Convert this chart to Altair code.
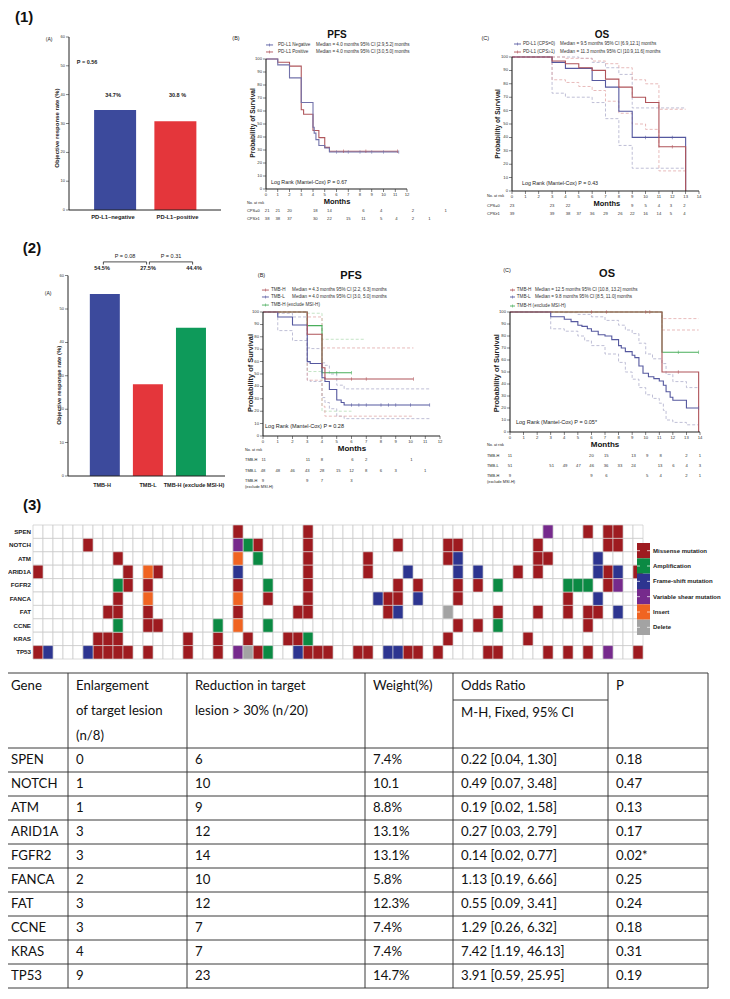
import altair as alt
import pandas as pd

# ============================ DATA ============================
# (1)(A) objective response rate by PD-L1
orr1_groups = ["PD-L1\u2013negative", "PD-L1\u2013positive"]
orr1_values = [34.7, 30.8]
orr1_labels = ["34.7%", "30.8 %"]
orr1_p = "P = 0.56"

# (2)(A) objective response rate by TMB
orr2_groups = ["TMB-H", "TMB-L", "TMB-H (exclude MSI-H)"]
orr2_values = [54.5, 27.5, 44.4]
orr2_labels = ["54.5%", "27.5%", "44.4%"]
orr2_p = ["P = 0.08", "P = 0.31"]

# (1)(B) PFS by PD-L1
pfs1_names = ["PD-L1 Negative", "PD-L1 Positive"]
pfs1_medians = ["Median = 4.0 months 95% CI [2.9,5.2] months",
                "Median = 4.0 months 95% CI [3.0,5.0] months"]
pfs1_t = [[0, 1, 2, 3, 4, 4.1, 4.25, 4.5, 5, 5.4, 11.3],
          [0, 1, 2, 3, 3.2, 4, 4.5, 5, 5.4, 11.2]]
pfs1_s = [[100, 95.5, 85.5, 66.5, 47.5, 43, 38, 33.5, 31.5, 28.5, 28.5],
          [100, 97.5, 94.5, 61, 57.5, 45, 39.5, 32, 29, 29]]
pfs1_cens_t = [[6, 7, 8, 9, 10, 11.3], [6.6, 8.5, 11.2]]
pfs1_cens_s = [[28.5] * 6, [29] * 3]
pfs1_logrank = "Log Rank (Mantel-Cox)  P = 0.67"
pfs1_risk_groups = ["CPS=0", "CPS\u22651"]
pfs1_risk_t = [[0.1, 1, 2, 4.2, 5.4, 8.3, 9.8, 12.5, 15.3],
               [0.1, 1, 2, 4.2, 5.4, 7, 8.3, 9.8, 11.1, 12.5, 13.9]]
pfs1_risk_n = [[21, 21, 20, 18, 14, 6, 4, 2, 1],
               [38, 38, 37, 30, 22, 15, 11, 5, 4, 2, 1]]

# (1)(C) OS by PD-L1
os1_names = ["PD-L1 (CPS=0)", "PD-L1 (CPS\u22651)"]
os1_medians = ["Median = 9.5 months 95% CI [6.9,12.1] months",
               "Median = 11.3 months 95% CI [10.9,11.6] months"]
os1_t = [[0, 3, 4, 6, 7, 8, 9, 13],
         [0, 3, 4, 5, 6, 7, 8, 9, 10, 11, 13]]
os1_s = [[100, 96, 91.5, 82.5, 77.5, 59.5, 40, 0],
         [100, 97, 95, 92, 90, 83.5, 77.5, 70, 66, 33, 0]]
os1_cens_t = [[10, 12], [12]]
os1_cens_s = [[40, 40], [33]]
os1_ci_t = [[0, 5, 6, 7, 8, 9, 13],
            [0, 3, 4, 6, 7, 8, 9, 13],
            [0, 4, 6, 7, 8, 9, 10, 11, 13],
            [0, 3, 4, 5, 6, 7, 8, 9, 10, 11, 13]]
os1_ci_s = [[100, 99, 96, 92, 87, 62, 62],
            [100, 73, 70, 66, 54, 34, 17, 17],
            [100, 99, 97, 95, 92, 83, 80, 61, 61],
            [100, 83, 81, 78, 75, 67, 58, 50, 46, 15, 15]]
os1_logrank = "Log Rank (Mantel-Cox)  P = 0.43"
os1_risk_t = [[0, 3, 4.2, 9, 10, 11, 11.9, 12.9],
              [0, 3, 4.2, 5, 6, 7, 8.1, 9, 10, 11, 11.9, 12.9]]
os1_risk_n = [[23, 23, 22, 9, 5, 4, 3, 2],
              [39, 39, 38, 37, 36, 29, 26, 22, 16, 14, 5, 4]]

# (2)(B) PFS by TMB
tmb_names = ["TMB-H", "TMB-L", "TMB-H (exclude MSI-H)"]
pfs2_medians = ["Median = 4.3 months 95% CI [2.2, 6.3] months",
                "Median = 4.0 months 95% CI [3.0, 5.0] months", ""]
pfs2_t = [[0, 3, 4, 4.2, 10.2],
          [0, 1, 2, 3, 3.2, 4, 4.2, 4.5, 5, 5.3, 5.5, 11.3],
          [0, 3, 4, 6]]
pfs2_s = [[100, 82, 55, 46, 46],
          [100, 96, 89.5, 60, 58.5, 47, 44, 37.5, 29, 27, 25, 25],
          [100, 89, 51, 51]]
pfs2_cens_t = [[6, 7, 10.2], [6, 6.5, 7, 8, 8.5, 9, 10, 11.3], [5, 6]]
pfs2_cens_s = [[46] * 3, [25] * 8, [51] * 2]
pfs2_ci_t = [[0, 3, 4, 10.2], [0, 3, 4, 4.2, 10.2],
             [0, 1, 2, 3, 3.2, 4, 4.2, 4.5, 5, 5.5, 11.3],
             [0, 1, 2, 3, 3.2, 4, 4.2, 4.5, 5, 5.5, 11.3],
             [0, 3, 4, 6.9], [0, 3, 4, 6]]
pfs2_ci_s = [[100, 96, 71, 71], [100, 45, 24, 16, 16],
             [100, 99, 96, 71, 70.5, 59, 57, 50, 41, 38, 38],
             [100, 85, 77, 45, 44, 31, 27, 22, 16, 14, 14],
             [100, 99, 78, 78], [100, 52, 20, 20]]
pfs2_logrank = "Log Rank (Mantel-Cox)  P = 0.28"
pfs2_risk_t = [[0.05, 3.05, 4, 6.06, 7, 10.07],
               [0, 1, 2, 3, 4, 5.1, 6, 7, 8, 9, 11],
               [0, 3, 4, 6]]
pfs2_risk_n = [[11, 11, 8, 6, 2, 1],
               [48, 48, 46, 43, 28, 15, 12, 8, 6, 3, 1],
               [9, 9, 7, 3]]

# (2)(C) OS by TMB
os2_medians = ["Median = 12.5 months 95% CI [10.8, 13.2] months",
               "Median = 9.8 months 95% CI [8.5, 11.0] months", ""]
os2_t = [[0, 11.2, 13.9],
         [0, 3, 4, 4.5, 5, 5.3, 5.7, 6, 6.5, 7, 7.5, 8, 8.2, 8.5, 9, 9.2, 9.5, 9.8,
          10.2, 10.6, 11, 11.3, 11.5, 11.8, 12, 13, 13.9],
         [0, 11.2, 13.9]]
os2_s = [[100, 50, 0],
         [100, 96, 94, 92, 89, 88, 86, 84, 81, 80, 77, 72, 70, 67, 64, 62, 55, 49,
          46, 44.5, 42.5, 39, 33.5, 29, 26.5, 20, 20],
         [100, 66.5, 66.5]]
os2_cens_t = [[6, 7.1, 10, 10.3, 12.4], [13.9], [12.4, 13.9]]
os2_cens_s = [[100, 100, 100, 100, 50], [20], [66.5, 66.5]]
os2_ci_t = [[0, 11.2, 13.9], [0, 11.2, 13.9],
            [0, 3, 4, 5, 6, 7, 8, 8.5, 9, 9.5, 10, 10.5, 11.2, 11.5, 12, 13, 13.9],
            [0, 3, 4, 5, 5.5, 6, 7, 8, 8.5, 9, 9.5, 10, 10.5, 11, 11.3, 11.5, 12, 13, 13.9]]
os2_ci_s = [[100, 94.5, 94.5], [100, 85, 85],
            [100, 100, 99.5, 98, 96, 93, 89, 85, 82, 74, 65, 61, 57, 48, 42, 37, 37],
            [100, 86, 84, 80, 76, 72, 65, 58, 50, 44, 37, 31, 28, 24, 18, 10, 8, 6, 6]]
os2_logrank = "Log Rank (Mantel-Cox)  P = 0.05*"
os2_risk_t = [[0, 6, 7.1, 9.1, 10.1, 11.1, 13, 14],
              [0, 3.07, 4.05, 5.04, 6.02, 7.08, 8.1, 9.1, 11.06, 12.04, 13.02, 14],
              [0, 6, 7.1, 10.1, 11.1, 13, 14]]
os2_risk_n = [[11, 20, 15, 13, 9, 8, 2, 1],
              [51, 51, 49, 47, 46, 36, 33, 24, 13, 6, 4, 3],
              [9, 9, 6, 5, 4, 2, 1]]

# (3) oncoprint: gene -> patient columns per alteration type
onco_genes = ["SPEN", "NOTCH", "ATM", "ARID1A", "FGFR2", "FANCA", "FAT", "CCNE", "KRAS", "TP53"]
onco_types = ["Missense mutation", "Amplification", "Frame-shift mutation",
              "Variable shear mutation", "Insert", "Delete"]
onco_missense = {
    "SPEN": [20, 27, 55, 57, 58],
    "NOTCH": [5, 22, 27, 36, 41, 42, 50, 57, 58],
    "ATM": [8, 27, 33, 41, 50, 51],
    "ARID1A": [0, 9, 12, 27, 33, 48, 50, 57, 60],
    "FGFR2": [9, 11, 20, 27, 36, 38, 42, 44, 57],
    "FANCA": [8, 23, 27, 35, 36, 42, 53],
    "FAT": [7, 8, 11, 20, 26, 27, 35, 46, 50, 53, 55, 56],
    "CCNE": [11, 12, 42, 44, 55],
    "KRAS": [6, 7, 8, 15, 18, 21, 25, 26, 41, 49],
    "TP53": [0, 6, 7, 8, 9, 11, 15, 18, 22, 27, 28, 29, 32, 33, 37, 38, 40, 45, 46, 51, 53, 55, 60],
}
onco_amplification = {"NOTCH": [21], "ATM": [22], "FGFR2": [8, 23, 46, 53, 54, 55],
                      "CCNE": [8, 18, 23, 46], "KRAS": [27], "TP53": [23]}
onco_frameshift = {"ATM": [42, 56], "ARID1A": [20, 37, 42, 44, 56, 58], "FANCA": [34, 38, 56],
                   "FAT": [36, 58], "TP53": [1, 5, 26, 35, 36]}
onco_splice = {"SPEN": [51], "NOTCH": [20], "FGFR2": [58], "TP53": [20, 57]}
onco_insert = {"ATM": [20], "ARID1A": [11], "FANCA": [11, 20], "CCNE": [20]}
onco_delete = {"FAT": [41], "TP53": [21]}
onco_n_patients = 61

# (3) table
tab_genes = ["SPEN", "NOTCH", "ATM", "ARID1A", "FGFR2", "FANCA", "FAT", "CCNE", "KRAS", "TP53"]
tab_enlarge = [0, 1, 1, 3, 3, 2, 3, 3, 4, 9]
tab_reduce = [6, 10, 9, 12, 14, 10, 12, 7, 7, 23]
tab_weight = ["7.4%", "10.1", "8.8%", "13.1%", "13.1%", "5.8%", "12.3%", "7.4%", "7.4%", "14.7%"]
tab_or = ["0.22 [0.04, 1.30]", "0.49 [0.07, 3.48]", "0.19 [0.02, 1.58]", "0.27 [0.03, 2.79]",
          "0.14 [0.02, 0.77]", "1.13 [0.19, 6.66]", "0.55 [0.09, 3.41]", "1.29 [0.26, 6.32]",
          "7.42 [1.19, 46.13]", "3.91 [0.59, 25.95]"]
tab_p = ["0.18", "0.47", "0.13", "0.17", "0.02*", "0.25", "0.24", "0.18", "0.31", "0.19"]

# ============================ LAYOUT ============================
FONT = "Liberation Sans"
OFF = 8
layers = []


def qs(dom, a, b):
    return alt.Scale(domain=dom, range=[a - OFF, b - OFF], nice=False, zero=False)


class Frame:
    def __init__(self, xdom, xr, ydom, yr):
        self.xs = qs(xdom, *xr)
        self.ys = qs(ydom, *yr)

    def pos(self):
        return dict(x=alt.X("x:Q", scale=self.xs, axis=None),
                    y=alt.Y("y:Q", scale=self.ys, axis=None))


def add_text(fr, rows, **kw):
    mk = dict(font=FONT, fontSize=5, color="#222")
    mk.update(kw)
    df = pd.DataFrame(rows, columns=["x", "y", "t"])
    layers.append(alt.Chart(df).mark_text(**mk).encode(text="t:N", **fr.pos()))


def add_rules(fr, rows, color="#222", width=1.0, dash=None):
    df = pd.DataFrame(rows, columns=["x", "x2", "y", "y2"])
    mk = dict(color=color, strokeWidth=width)
    if dash:
        mk["strokeDash"] = dash
    layers.append(alt.Chart(df).mark_rule(**mk).encode(x2="x2:Q", y2="y2:Q", **fr.pos()))


def add_steps(fr, ts, ss, colors, order, width=1.2, dash=None):
    """one step-line layer per series, drawn in the given order"""
    for i in order:
        df = pd.DataFrame({"x": ts[i], "y": ss[i]})
        mk = dict(interpolate="step-after", strokeWidth=width, color=colors[i])
        if dash:
            mk["strokeDash"] = dash
        layers.append(alt.Chart(df).mark_line(**mk).encode(**fr.pos()))


def add_censor(fr, ts, ss, colors, size=3.5):
    for tt, sv, c in zip(ts, ss, colors):
        df = pd.DataFrame({"x": tt, "y": sv})
        layers.append(alt.Chart(df).mark_tick(orient="vertical", size=size, thickness=0.8,
                                              color=c).encode(**fr.pos()))


def add_axes(fr, x0, x1, y0, y1, yticks, xticks=None, lw=1.1, fs=4.2):
    add_rules(fr, [(x0, x0, y0, y1), (x0, x1, y0, y0)], width=lw)
    yt = pd.DataFrame({"x": x0, "y": yticks})
    yt["t"] = yt["y"].astype(str)
    layers.append(alt.Chart(yt).mark_tick(orient="horizontal", size=3, thickness=0.8,
                                          color="#222", xOffset=-1.5).encode(**fr.pos()))
    layers.append(alt.Chart(yt).mark_text(font=FONT, fontSize=fs, align="right", dx=-4,
                                          color="#333").encode(text="t:N", **fr.pos()))
    if xticks is not None:
        xt = pd.DataFrame({"x": xticks, "y": y0})
        xt["t"] = xt["x"].astype(str)
        layers.append(alt.Chart(xt).mark_tick(orient="vertical", size=3, thickness=0.8,
                                              color="#222", yOffset=1.5).encode(**fr.pos()))
        layers.append(alt.Chart(xt).mark_text(font=FONT, fontSize=fs, dy=6,
                                              color="#333").encode(text="t:N", **fr.pos()))


def add_legend(fr, x0, x1, xname, xmed, ys, names, medians, colors, fs=4.6):
    df = pd.DataFrame({"x": x0, "x2": x1, "y": ys, "k": names})
    cs = alt.Color("k:N", scale=alt.Scale(domain=names, range=colors), legend=None)
    layers.append(alt.Chart(df).mark_rule(strokeWidth=0.9).encode(x2="x2:Q", color=cs, **fr.pos()))
    df2 = pd.DataFrame({"x": (x0 + x1) / 2, "y": ys, "k": names})
    layers.append(alt.Chart(df2).mark_tick(orient="vertical", size=3, thickness=0.8).encode(
        color=cs, **fr.pos()))
    add_text(fr, [(xname, y, n) for y, n in zip(ys, names)], align="left", fontSize=fs, color="#333")
    add_text(fr, [(xmed, y, m) for y, m in zip(ys, medians) if m], align="left", fontSize=fs,
             color="#333")


def add_risk(fr, ts, ns, ys, fs=4.2):
    rows = [(t, y, str(n)) for tt, nn, y in zip(ts, ns, ys) for t, n in zip(tt, nn)]
    add_text(fr, rows, fontSize=fs, color="#333")


BLUE, RED, GREEN = "#3C4A9C", "#E4363B", "#0E9A5A"
KM_B, KM_R, KM_G = "#55589F", "#B0545A", "#49AE5B"
CI_B, CI_R, CI_G = "#AFAFCC", "#E2AAAA", "#B6DDB8"

# ---------------- (1)(A) ----------------
f1a = Frame([-0.682, 1.674], (69, 221), [0, 60], (210, 37))
add_text(f1a, [(-1.52, 66.8, "(1)")], fontSize=15, fontWeight="bold", align="left", color="#111")
df = pd.DataFrame({"x": [0, 1], "y": orr1_values, "g": orr1_groups})
layers.append(alt.Chart(df).mark_bar(size=42, orient="vertical").encode(
    y2=alt.datum(0),
    color=alt.Color("g:N", scale=alt.Scale(domain=orr1_groups, range=[BLUE, RED]), legend=None),
    **f1a.pos()))
add_axes(f1a, -0.682, 1.674, 0, 60, list(range(0, 61, 10)), lw=1.0, fs=4)
add_text(f1a, [(-0.99, 59.3, "(A)")], fontSize=5)
add_text(f1a, [(-0.56, 51.3, orr1_p)], fontSize=5.5, fontWeight="bold", align="left")
add_text(f1a, [(i, 39.9, l) for i, l in enumerate(orr1_labels)], fontSize=5.5, fontWeight="bold")
add_text(f1a, [(i, -2.6, g) for i, g in enumerate(orr1_groups)], fontSize=5.8, fontWeight="bold")
add_text(f1a, [(-0.87, 28.4, "Objective response rate (%)")], fontSize=6, fontWeight="bold", angle=270)

# ---------------- (2)(A) ----------------
f2a = Frame([-0.739, 2.674], (68, 225), [0, 60], (476, 275.6))
add_text(f2a, [(-1.72, 68.3, "(2)")], fontSize=15, fontWeight="bold", align="left", color="#111")
df = pd.DataFrame({"x": [0, 1, 2], "y": orr2_values, "g": orr2_groups})
layers.append(alt.Chart(df).mark_bar(size=30, orient="vertical").encode(
    y2=alt.datum(0),
    color=alt.Color("g:N", scale=alt.Scale(domain=orr2_groups, range=[BLUE, RED, GREEN]), legend=None),
    **f2a.pos()))
add_axes(f2a, -0.739, 2.674, 0, 60, list(range(0, 61, 10)), lw=1.0, fs=4)
add_text(f2a, [(-1.17, 54.8, "(A)")], fontSize=5)
add_rules(f2a, [(0.03, 0.97, 64.1, 64.1), (1.03, 1.97, 64.1, 64.1),
                (0.03, 0.03, 64.1, 63.3), (0.97, 0.97, 64.1, 63.3),
                (1.03, 1.03, 64.1, 63.3), (1.97, 1.97, 64.1, 63.3)], width=0.8)
add_text(f2a, [(0.5, 65.8, orr2_p[0]), (1.5, 65.8, orr2_p[1])], fontSize=5.5)
add_text(f2a, [(i, 62.2, l) for i, l in enumerate(orr2_labels)], fontSize=5.5, fontWeight="bold")
add_text(f2a, [(i, -2.6, g) for i, g in enumerate(orr2_groups)], fontSize=5.5, fontWeight="bold")
add_text(f2a, [(-0.93, 27.2, "Objective response rate (%)")], fontSize=6, fontWeight="bold", angle=270)

# ---------------- (1)(B) PFS ----------------
f1b = Frame([0, 12], (266, 407), [0, 100], (189, 59))
add_text(f1b, [(-2.55, 116.2, "(B)")], fontSize=5.5)
add_text(f1b, [(6.04, 118.5, "PFS")], fontSize=10, fontWeight="bold", color="#111")
add_legend(f1b, 0.0, 0.6, 1.02, 4.26, [110.8, 105.4], pfs1_names, pfs1_medians, [KM_B, KM_R])
add_steps(f1b, pfs1_t, pfs1_s, ["#7272AA", "#B0575C"], order=[1, 0], width=1.1)
add_censor(f1b, pfs1_cens_t, pfs1_cens_s, ["#7272AA", "#B0575C"])
add_axes(f1b, 0, 12, 0, 100, list(range(0, 101, 10)), list(range(0, 13)))
add_text(f1b, [(0.43, 5.4, pfs1_logrank)], fontSize=5.3, align="left")
add_text(f1b, [(6.04, -10, "Months")], fontSize=7.5, fontWeight="bold", color="#111")
add_text(f1b, [(-1.1, 50.8, "Probability of Survival")], fontSize=6.6, fontWeight="bold", angle=270)
add_text(f1b, [(-1.62, -10.8, "No. at risk")], fontSize=3.8, align="left")
add_text(f1b, [(-1.62, -16.9, pfs1_risk_groups[0]), (-1.62, -23.1, pfs1_risk_groups[1])],
         fontSize=4, align="left")
add_risk(f1b, pfs1_risk_t, pfs1_risk_n, [-16.9, -23.1])

# ---------------- (1)(C) OS ----------------
f1c = Frame([0, 14], (512, 699), [0, 100], (191, 57))
add_text(f1c, [(-2.0, 114.2, "(C)")], fontSize=5.5)
add_text(f1c, [(6.74, 116.4, "OS")], fontSize=10, fontWeight="bold", color="#111")
add_legend(f1c, 0.15, 0.67, 0.82, 3.6, [109.7, 103.7], os1_names, os1_medians, [KM_B, KM_R])
add_steps(f1c, os1_ci_t, os1_ci_s, [CI_B, CI_B, CI_R, CI_R], order=[0, 1, 2, 3],
          width=0.8, dash=[3, 2])
add_steps(f1c, os1_t, os1_s, [KM_B, KM_R], order=[0, 1], width=1.1)
add_censor(f1c, os1_cens_t, os1_cens_s, [KM_B, KM_R])
add_axes(f1c, 0, 14, 0, 100, list(range(0, 101, 10)), list(range(0, 15)))
add_text(f1c, [(0.75, 6, os1_logrank)], fontSize=5.3, align="left")
add_text(f1c, [(7.1, -9.7, "Months")], fontSize=7.5, fontWeight="bold", color="#111")
add_text(f1c, [(-1.05, 50, "Probability of Survival")], fontSize=6.6, fontWeight="bold", angle=270)
add_text(f1c, [(-1.87, -3.7, "No. at risk")], fontSize=3.8, align="left")
add_text(f1c, [(-1.87, -11.2, pfs1_risk_groups[0]), (-1.87, -17.2, pfs1_risk_groups[1])],
         fontSize=4, align="left")
add_risk(f1c, os1_risk_t, os1_risk_n, [-11.2, -17.2])

# ---------------- (2)(B) PFS ----------------
f2b = Frame([0, 12], (263, 440), [0, 100], (436, 312))
add_text(f2b, [(-0.1, 129.8, "(B)")], fontSize=5.5)
add_text(f2b, [(5.97, 129, "PFS")], fontSize=11, fontWeight="bold", color="#111")
add_legend(f2b, -0.07, 0.4, 0.54, 1.97, [117.7, 112.1, 105.6], tmb_names, pfs2_medians,
           [KM_R, KM_B, KM_G])
add_steps(f2b, pfs2_ci_t, pfs2_ci_s, [CI_R, CI_R, CI_B, CI_B, CI_G, CI_G],
          order=[4, 5, 2, 3, 0, 1], width=0.8, dash=[3, 2])
add_steps(f2b, pfs2_t, pfs2_s, [KM_R, KM_B, KM_G], order=[2, 1, 0], width=1.1)
add_censor(f2b, pfs2_cens_t, pfs2_cens_s, [KM_R, KM_B, KM_G])
add_axes(f2b, 0, 12, 0, 100, list(range(0, 101, 10)), list(range(0, 13)))
add_text(f2b, [(0.14, 8, pfs2_logrank)], fontSize=5.5, align="left")
add_text(f2b, [(6.03, -10.5, "Months")], fontSize=8, fontWeight="bold", color="#111")
add_text(f2b, [(-0.81, 50.8, "Probability of Survival")], fontSize=7.4, fontWeight="bold", angle=270)
add_text(f2b, [(-1.22, -11.3, "No. at risk")], fontSize=3.8, align="left")
add_text(f2b, [(-1.22, -19.4, "TMB-H"), (-1.22, -28.2, "TMB-L"), (-1.22, -36.3, "TMB-H"),
               (-1.22, -41.1, "(exclude MSI-H)")], fontSize=3.9, align="left")
add_risk(f2b, pfs2_risk_t, pfs2_risk_n, [-19.4, -28.2, -36.3])

# ---------------- (2)(C) OS ----------------
f2c = Frame([0, 14], (510, 700), [0, 100], (432, 312))
add_text(f2c, [(-0.22, 135, "(C)")], fontSize=5.5)
add_text(f2c, [(7.15, 131.7, "OS")], fontSize=11, fontWeight="bold", color="#111")
add_legend(f2c, 0.0, 0.37, 0.5, 1.84, [118.3, 112.5, 105], tmb_names, os2_medians,
           [KM_R, KM_B, KM_G])
add_steps(f2c, os2_ci_t, os2_ci_s, [CI_R, CI_R, CI_B, CI_B], order=[2, 3, 1, 0],
          width=0.8, dash=[3, 2])
add_steps(f2c, os2_t, os2_s, [KM_R, KM_B, KM_G], order=[2, 1, 0], width=1.1)
add_censor(f2c, os2_cens_t, os2_cens_s, [KM_R, KM_B, KM_G])
add_axes(f2c, 0, 14, 0, 100, list(range(0, 101, 10)), list(range(0, 15)))
add_text(f2c, [(0.44, 8.3, os2_logrank)], fontSize=5.5, align="left")
add_text(f2c, [(7.0, -10.8, "Months")], fontSize=8, fontWeight="bold", color="#111")
add_text(f2c, [(-0.96, 49, "Probability of Survival")], fontSize=7.4, fontWeight="bold", angle=270)
add_text(f2c, [(-1.7, -10.8, "No. at risk")], fontSize=3.8, align="left")
add_text(f2c, [(-1.7, -20, "TMB-H"), (-1.7, -28.3, "TMB-L"), (-1.7, -36.7, "TMB-H"),
               (-1.7, -41.7, "(exclude MSI-H)")], fontSize=3.9, align="left")
add_risk(f2c, os2_risk_t, os2_risk_n, [-20, -28.3, -36.7])

# ---------------- (3) oncoprint ----------------
ONCO_COLORS = ["#9E1B20", "#0B8A43", "#2D3590", "#762A8C", "#F06422", "#A3A3A3"]
xo = alt.Scale(domain=list(range(onco_n_patients)), range=[33 - OFF, 643 - OFF],
               paddingInner=0, paddingOuter=0)
yo = alt.Scale(domain=onco_genes, range=[525 - OFF, 659 - OFF], paddingInner=0, paddingOuter=0)
grid = pd.DataFrame([(c, g) for g in onco_genes for c in range(onco_n_patients)], columns=["c", "g"])
layers.append(alt.Chart(grid).mark_rect(fill="white", stroke="#c9c9c9", strokeWidth=0.7).encode(
    x=alt.X("c:O", scale=xo, axis=None), y=alt.Y("g:N", scale=yo, axis=None)))
cells = []
for typ, dct in zip(onco_types, [onco_missense, onco_amplification, onco_frameshift,
                                 onco_splice, onco_insert, onco_delete]):
    for g, cols in dct.items():
        for c in cols:
            cells.append((c, g, typ))
cells = pd.DataFrame(cells, columns=["c", "g", "typ"])
layers.append(alt.Chart(cells).mark_rect(stroke="#dcdcdc", strokeWidth=0.6).encode(
    x=alt.X("c:O", scale=xo, axis=None), y=alt.Y("g:N", scale=yo, axis=None),
    color=alt.Color("typ:N", scale=alt.Scale(domain=onco_types, range=ONCO_COLORS), legend=None)))
gl = pd.DataFrame({"c": 0, "g": onco_genes})
layers.append(alt.Chart(gl).mark_text(font=FONT, fontSize=6.2, fontWeight="bold", align="right",
                                      dx=-7, color="#222").encode(
    x=alt.X("c:O", scale=xo, axis=None), y=alt.Y("g:N", scale=yo, axis=None), text="g:N"))
# legend
ly = alt.Scale(domain=onco_types, range=[543 - OFF, 635 - OFF], paddingInner=0, paddingOuter=0)
lx = qs([0, 1], 637, 650)
ldf = pd.DataFrame({"typ": onco_types, "a": 0, "b": 1})
layers.append(alt.Chart(ldf).mark_rect().encode(
    x=alt.X("a:Q", scale=lx, axis=None), x2="b:Q", y=alt.Y("typ:N", scale=ly, axis=None),
    color=alt.Color("typ:N", scale=alt.Scale(domain=onco_types, range=ONCO_COLORS), legend=None)))
for xv, off in ((0, 1.5), (1, -1.5)):
    ddf = pd.DataFrame({"typ": onco_types, "a": xv})
    layers.append(alt.Chart(ddf).mark_tick(orient="horizontal", size=3, thickness=1, color="white",
                                           xOffset=off).encode(
        x=alt.X("a:Q", scale=lx, axis=None), y=alt.Y("typ:N", scale=ly, axis=None)))
layers.append(alt.Chart(ldf).mark_text(font=FONT, fontSize=6, fontWeight="bold", align="left",
                                       dx=3, color="#222").encode(
    x=alt.X("b:Q", scale=lx, axis=None), y=alt.Y("typ:N", scale=ly, axis=None), text="typ:N"))

# ---------------- (3) table ----------------
TB = [3, 68, 187, 365, 453, 608, 708]


def tp(px):
    return (px - 3) / 705 * 100


ft = Frame([0, 100], (3, 708), [-3.125, 10], (673, 988))
add_text(ft, [(tp(23), -10.125, "(3)")], fontSize=15, fontWeight="bold", align="left", color="#111")
hl = [(0, 100, -3.125, -3.125), (tp(453), tp(608), -2.0, -2.0)]
hl += [(0, 100, float(i), float(i)) for i in range(0, 11)]
vl = [(tp(b), tp(b), -3.125, 10) for b in TB[1:]]
add_rules(ft, hl + vl, color="#3a3a3a", width=1.0)
TFONT = "Lato"
head = [(0, -2.58, "Gene"), (1, -2.58, "Enlargement"), (1, -1.54, "of target lesion"),
        (1, -0.5, "(n/8)"), (2, -2.58, "Reduction in target"), (2, -1.54, "lesion > 30% (n/20)"),
        (3, -2.58, "Weight(%)"), (4, -2.58, "Odds Ratio"), (4, -1.46, "M-H, Fixed, 95% CI"),
        (5, -2.58, "P")]
add_text(ft, [(tp(TB[c]), y, s) for c, y, s in head], font=TFONT, fontSize=13.2, align="left",
         dx=8, color="#111")
body = []
for i in range(len(tab_genes)):
    vals = [tab_genes[i], str(tab_enlarge[i]), str(tab_reduce[i]), tab_weight[i], tab_or[i], tab_p[i]]
    for c, v in enumerate(vals):
        body.append((tp(TB[c]), i + 0.5, v))
add_text(ft, body, font=TFONT, fontSize=13.2, align="left", dx=8, color="#111")

chart = alt.layer(*layers).resolve_scale(
    x="independent", y="independent", color="independent"
).properties(
    width=714, height=983, padding=0, autosize=alt.AutoSizeParams(type="none")
).configure_view(stroke=None)

chart.save("out.html", embed_options={"renderer": "svg", "actions": False})
